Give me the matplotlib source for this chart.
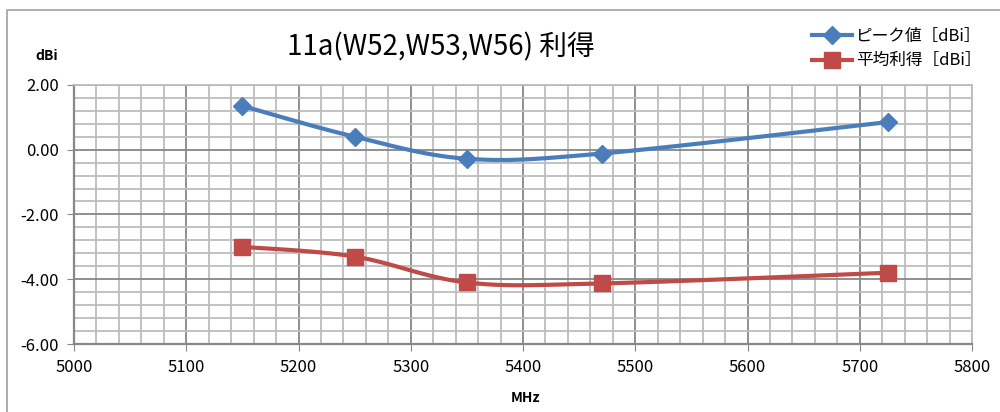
import numpy as np
import matplotlib.pyplot as plt
from matplotlib.ticker import MultipleLocator, FormatStrFormatter

plt.rcParams['font.family'] = ['Noto Sans CJK JP', 'DejaVu Sans']

# データ
freq = [5150, 5250, 5350, 5470, 5725]
peak = [1.35, 0.40, -0.28, -0.12, 0.85]
avg = [-3.00, -3.30, -4.10, -4.13, -3.80]
labels = ['ピーク値［dBi］', '平均利得［dBi］']
title = '11a(W52,W53,W56) 利得'


def smooth(x, y, n=30):
    # Excel風のスムージング (Catmull-Rom / Bezier)
    x = np.asarray(x, float)
    y = np.asarray(y, float)
    px = np.concatenate([[x[0]], x, [x[-1]]])
    py = np.concatenate([[y[0]], y, [y[-1]]])
    xs, ys = [], []
    t = np.linspace(0, 1, n)
    for i in range(1, len(px) - 2):
        p0 = np.array([px[i], py[i]])
        p3 = np.array([px[i + 1], py[i + 1]])
        p1 = p0 + (np.array([px[i + 1], py[i + 1]]) - np.array([px[i - 1], py[i - 1]])) / 6
        p2 = p3 - (np.array([px[i + 2], py[i + 2]]) - np.array([px[i], py[i]])) / 6
        b = ((1 - t) ** 3)[:, None] * p0 + (3 * (1 - t) ** 2 * t)[:, None] * p1 \
            + (3 * (1 - t) * t ** 2)[:, None] * p2 + (t ** 3)[:, None] * p3
        xs.extend(b[:, 0])
        ys.extend(b[:, 1])
    return xs, ys


fig = plt.figure(figsize=(10, 4.12), dpi=100)
ax = fig.add_axes([0.074, 0.165, 0.898, 0.629])

blue = '#4a7ebb'
red = '#be4b48'

sx, sy = smooth(freq, peak)
ax.plot(sx, sy, color=blue, lw=3, zorder=3)
ax.plot(freq, peak, ls='none', marker='D', ms=9, color=blue, zorder=4)
sx, sy = smooth(freq, avg)
ax.plot(sx, sy, color=red, lw=3, zorder=3)
ax.plot(freq, avg, ls='none', marker='s', ms=11, color=red, zorder=4)

ax.set_xlim(5000, 5800)
ax.set_ylim(-6, 2)
ax.xaxis.set_major_locator(MultipleLocator(100))
ax.xaxis.set_minor_locator(MultipleLocator(20))
ax.yaxis.set_major_locator(MultipleLocator(2))
ax.yaxis.set_minor_locator(MultipleLocator(0.4))
ax.yaxis.set_major_formatter(FormatStrFormatter('%.2f'))

ax.grid(which='major', color='#878787', lw=1.3)
ax.grid(which='minor', color='#bdbdbd', lw=1.3)
ax.set_axisbelow(True)

for s in ['top', 'right']:
    ax.spines[s].set_color('#bdbdbd')
    ax.spines[s].set_linewidth(1.3)
for s in ['left', 'bottom']:
    ax.spines[s].set_color('#878787')
    ax.spines[s].set_linewidth(1.6)

ax.tick_params(which='major', length=5, color='#878787', labelsize=12, pad=6)
ax.tick_params(which='minor', length=0)

fig.text(0.441, 0.885, title, ha='center', va='center', fontsize=20)
fig.text(0.047, 0.865, 'dBi', ha='center', va='center', fontsize=10, fontweight='bold')
fig.text(0.525, 0.035, 'MHz', ha='center', va='center', fontsize=10, fontweight='bold')

# 凡例
h1, = ax.plot([], [], color=blue, lw=3, marker='D', ms=9)
h2, = ax.plot([], [], color=red, lw=3, marker='s', ms=11)
fig.legend([h1, h2], labels, loc='center', bbox_to_anchor=(0.897, 0.882),
           frameon=False, fontsize=12, handlelength=2.4, handletextpad=0.25,
           labelspacing=0.45)

# 外枠
fig.add_artist(plt.Line2D([0.007, 0.007, 1.0], [0.0, 0.976, 0.976],
                          transform=fig.transFigure, color='#a0a0a0', lw=1.2))

fig.savefig('out.png', dpi=100)
